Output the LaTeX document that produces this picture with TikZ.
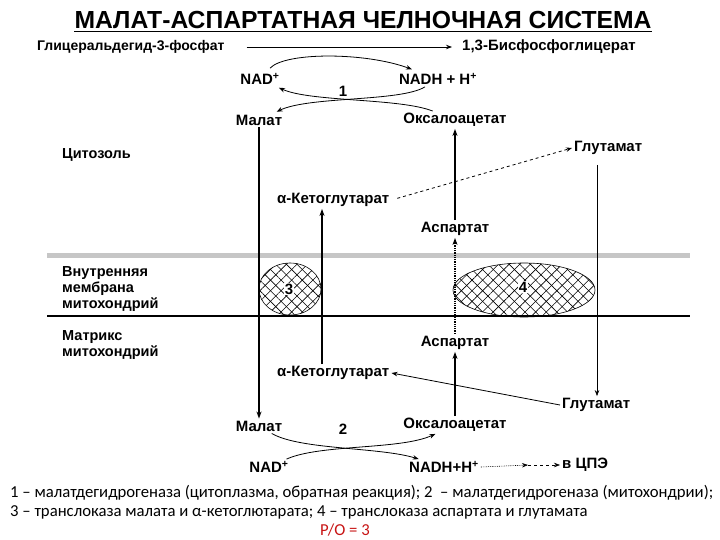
\documentclass[tikz,border=0pt]{standalone}
\usepackage{fontspec}
\setmainfont{Liberation Sans}
\newfontfamily\carl{Carlito}
\usetikzlibrary{arrows.meta,patterns.meta}
\definecolor{pored}{RGB}{200,20,20}
\begin{document}
\begin{tikzpicture}[x=1pt,y=-1pt,
  lbl/.style={font=\bfseries\fontsize{15}{17}\selectfont, inner sep=2pt},
  side/.style={font=\bfseries\fontsize{14.5}{16}\selectfont, inner sep=0pt, align=left, anchor=west},
  note/.style={font=\carl\fontsize{16.7}{19}\selectfont, inner sep=0pt, anchor=west},
  arr/.style={line width=0.8pt, -{Stealth[length=6pt,width=4.5pt]}},
  thickarr/.style={line width=1.3pt, -{Stealth[length=7pt,width=5pt]}},
  hatch/.style={pattern={Lines[angle=45,distance=7.5pt,line width=0.6pt]}},
  hatchb/.style={pattern={Lines[angle=-45,distance=7.5pt,line width=0.6pt]}}
]
\useasboundingbox (0,0) rectangle (720,540);
\fill[white] (0,0) rectangle (720,540);

% title
\node[inner sep=0pt, font=\bfseries\fontsize{24.7}{27}\selectfont] (title) at (363,20) {МАЛАТ-АСПАРТАТНАЯ ЧЕЛНОЧНАЯ СИСТЕМА};
\draw[line width=1.5pt] ([yshift=-3pt]title.base west) -- ([yshift=-3pt]title.base east);

% membrane
\fill[gray!45] (47,253) rectangle (690,258);
\draw[line width=1.1pt] (47,316) -- (690,316);

% side labels
\node[side] (cyt) at (62,155) {Цитозоль};
\node[side] (mem) at (62,289) {Внутренняя\\мембрана\\митохондрий};
\node[side] (mtx) at (62,345) {Матрикс\\митохондрий};

% top reaction
\node[lbl, font=\bfseries\fontsize{14}{16}\selectfont, anchor=west] (g3p) at (35,47) {Глицеральдегид-3-фосфат};
\node[lbl, anchor=west] (bpg) at (460,47) {1,3-Бисфосфоглицерат};
\node[lbl] (nad1) at (260,79) {NAD\textsuperscript{+}};
\node[lbl] (nadh1) at (438,79) {NADH + H\textsuperscript{+}};
\node[lbl] (n1) at (343,91) {1};
\node[lbl] (mal1) at (259,120) {Малат};
\node[lbl] (oaa1) at (455,120) {Оксалоацетат};

% cytosol
\node[lbl, anchor=west] (glu1) at (572,148) {Глутамат};
\node[lbl, anchor=west] (akg1) at (275,200) {α-Кетоглутарат};
\node[lbl] (asp1) at (455,229) {Аспартат};

% transporters
\coordinate (colK) at (322,0);
\coordinate (colG) at (597,0);
\fill[hatch] (290,289) ellipse [x radius=31pt, y radius=26pt];
\fill[hatchb] (290,289) ellipse [x radius=31pt, y radius=26pt];
\draw[line width=0.6pt] (290,289) ellipse [x radius=31pt, y radius=26pt];
\node[lbl, fill=white, inner sep=1pt] (t3) at (289,289) {3};
\fill[hatch] (524,290) ellipse [x radius=71pt, y radius=27pt];
\fill[hatchb] (524,290) ellipse [x radius=71pt, y radius=27pt];
\draw[line width=0.6pt] (524,290) ellipse [x radius=71pt, y radius=27pt];
\node[lbl, fill=white, inner sep=1pt] (t4) at (523,287) {4};

% matrix
\node[lbl] (asp2) at (455,343) {Аспартат};
\node[lbl, anchor=west] (akg2) at (275,373) {α-Кетоглутарат};
\node[lbl, anchor=west] (glu2) at (560,405) {Глутамат};
\node[lbl] (mal2) at (259,426) {Малат};
\node[lbl] (n2) at (343,429) {2};
\node[lbl] (oaa2) at (455,425) {Оксалоацетат};
\node[lbl] (nad2) at (269,467) {NAD\textsuperscript{+}};
\node[lbl] (nadh2) at (444,467) {NADH+H\textsuperscript{+}};
\node[lbl, anchor=west] (cpe) at (560,465) {в ЦПЭ};
\coordinate (mid) at (528,465);

% connectors top
\draw[arr, shorten <=20pt, shorten >=8pt] (g3p.east) -- (bpg.west);
\draw[arr, shorten <=4pt, shorten >=5pt] (nad1) .. controls (285,52) and (365,52) .. (nadh1);
\draw[arr, shorten >=2pt] (nadh1) .. controls (400,102) and (310,96) .. (mal1);
\draw[arr, shorten >=2pt] (oaa1) .. controls (400,98) and (310,102) .. (nad1);

% verticals
\draw[thickarr] (mal1) -- (mal2);
\draw[thickarr] (asp1) -- (oaa1);
\draw[thickarr, densely dotted, -{Stealth[length=7pt,width=5pt]}] (asp2) -- (asp1);
\draw[thickarr] (oaa2) -- (asp2);
\draw[thickarr] (colK |- akg2.north) -- (colK |- akg1.south);
\draw[arr, line width=0.6pt] ([yshift=-8pt]colG |- glu1.south) -- (colG |- glu2.north);

% diagonal
\draw[arr, dashed, shorten <=6pt] (akg1.east) -- (glu1.west);
\draw[arr] (glu2.west) -- (akg2.east);

% bottom reaction
\draw[arr] (mal2) .. controls (300,450) and (380,447) .. (nadh2);
\draw[arr] (nad2) .. controls (320,444) and (400,450) .. (oaa2);
\draw[arr, densely dotted, line width=0.6pt] (nadh2.east) -- (mid);
\draw[arr, dashed, line width=0.6pt] (mid) -- (cpe.west);

% notes
\node[note] (l1) at (10,493) {1 – малатдегидрогеназа (цитоплазма, обратная реакция); 2 \ – малатдегидрогеназа (митохондрии);};
\node[note] (l2) at (10,512) {3 – транслоказа малата и α-кетоглютарата; 4 – транслоказа аспартата и глутамата};
\node[note, anchor=center, text=pored] (po) at (345,530) {P/O = 3};
\end{tikzpicture}
\end{document}
